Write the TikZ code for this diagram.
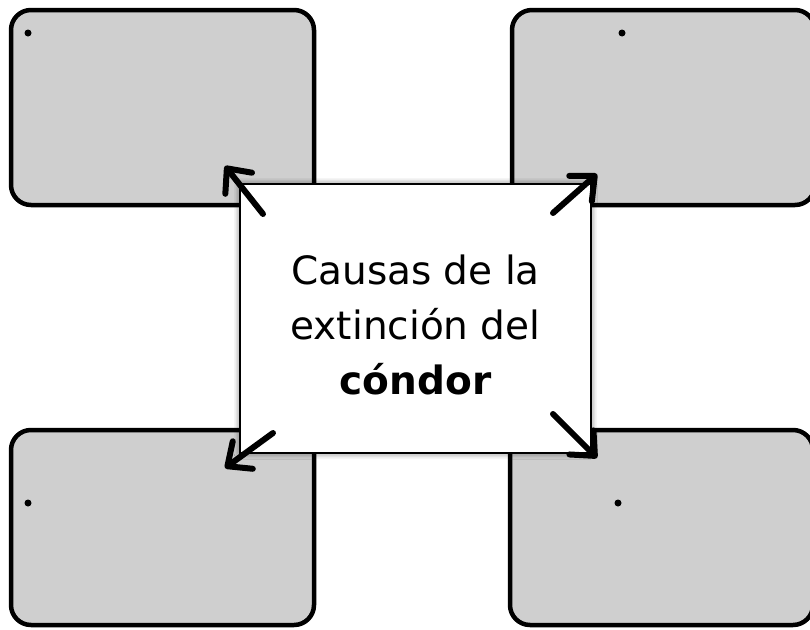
\documentclass[tikz,border=0pt]{standalone}
\usepackage{fontspec}
\setmainfont{DejaVu Sans}
\usetikzlibrary{arrows.meta,shadows.blur}
\definecolor{boxgray}{RGB}{207,207,207}
\begin{document}
\begin{tikzpicture}[x=1pt,y=-1pt,
  gbox/.style={draw=black,line width=4.5pt,fill=boxgray,rounded corners=20pt,
    minimum width=303pt,minimum height=195pt,inner sep=0pt},
  centerbox/.style={draw=black,line width=1.5pt,fill=white,
    minimum width=351pt,minimum height=269pt,inner sep=0pt,
    blur shadow={shadow xshift=0pt,shadow yshift=0pt,shadow blur radius=6pt,shadow opacity=60}},
  bullet/.style={circle,fill=black,inner sep=0pt,minimum size=7pt},
  arr/.style={line width=6pt,line cap=round,line join=round,
    -{Straight Barb[length=19pt,width=34pt,line cap=round,line join=round]}}]
\useasboundingbox (0,0) rectangle (810,629);
\clip (0,0) rectangle (810,629);
% outer boxes
\node[gbox] (tl) at (162.5,107.5) {};
\node[gbox] (tr) at (663.5,107.5) {};
\node[gbox] (bl) at (162.5,527.5) {};
\node[gbox] (br) at (661.5,527.5) {};
% bullets
\node[bullet] (d1) at (28,33) {};
\node[bullet] (d2) at (622,33) {};
\node[bullet] (d3) at (28,503) {};
\node[bullet] (d4) at (618,503) {};
% centre box
\node[centerbox] (c) at (415.5,318.5) {};
\node[align=center,font=\fontsize{39pt}{55pt}\selectfont] (t) at (415.5,325.2)
  {Causas de la\\extinción del\\\textbf{cóndor}};
% arrow end points
\coordinate (s1) at (263,214); \coordinate (e1) at (225,166);
\coordinate (s2) at (553,213); \coordinate (e2) at (597,174);
\coordinate (s3) at (273,433); \coordinate (e3) at (225,468);
\coordinate (s4) at (553,414); \coordinate (e4) at (597,458);
\draw[arr] (s1) -- (e1);
\draw[arr] (s2) -- (e2);
\draw[arr] (s3) -- (e3);
\draw[arr] (s4) -- (e4);
\end{tikzpicture}
\end{document}
